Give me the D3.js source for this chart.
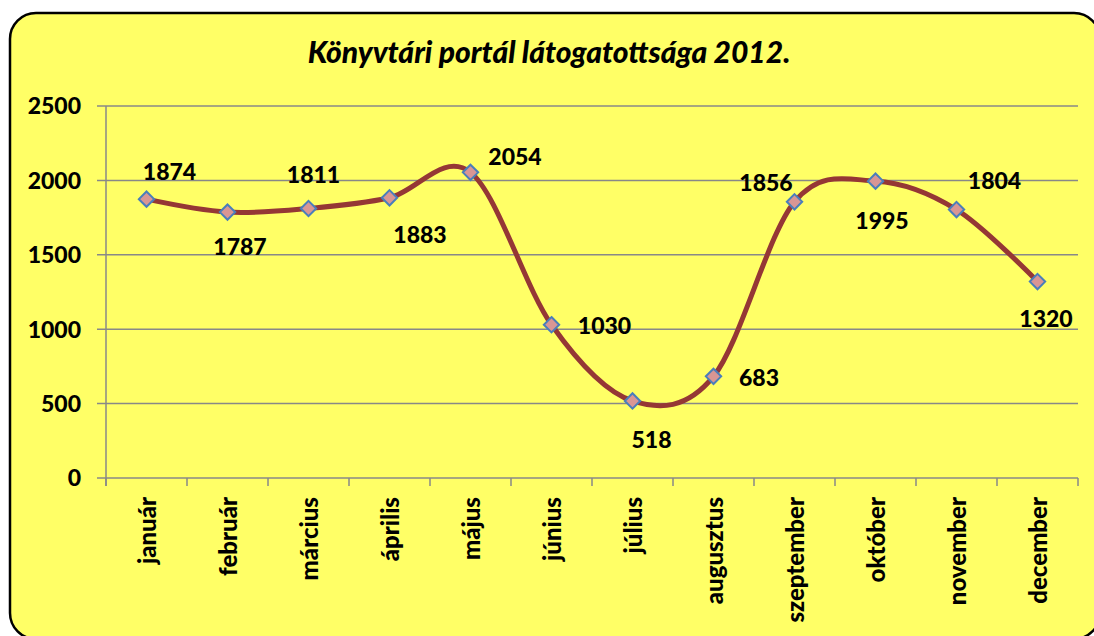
<!DOCTYPE html>
<html>
<head>
<meta charset="utf-8">
<script src="https://cdn.jsdelivr.net/npm/d3@7"></script>
<style>
  body { margin: 0; background: #fff; }
  text { font-family: Lato, "Open Sans", sans-serif; font-weight: 900; }
</style>
</head>
<body>
<script>
const title = "Könyvtári portál látogatottsága 2012.";
const months = ["január", "február", "március", "április", "május", "június", "július", "augusztus", "szeptember", "október", "november", "december"];
const visits = [1874, 1787, 1811, 1883, 2054, 1030, 518, 683, 1856, 1995, 1804, 1320];
const yTicks = [0, 500, 1000, 1500, 2000, 2500];
// where each value label sits relative to its marker
const labelOffsets = [[23, -27], [12.5, 34.5], [5, -34], [30.5, 37], [44.5, -16], [53, 1], [19, 39], [45.5, 1], [-28.5, -19], [6.5, 39.5], [38, -28.5], [8.5, 37]];

const W = 1094, H = 636;
const plotL = 106, plotR = 1078, plotT = 106, plotB = 478;

const svg = d3.select("body").append("svg")
    .attr("width", W)
    .attr("height", H);

svg.append("rect")
    .attr("x", 10).attr("y", 13)
    .attr("width", 1090).attr("height", 626)
    .attr("rx", 26).attr("ry", 26)
    .attr("fill", "#ffff66")
    .attr("stroke", "#000")
    .attr("stroke-width", 2.5);

svg.append("text")
    .attr("x", 549).attr("y", 63)
    .attr("text-anchor", "middle")
    .attr("font-style", "italic")
    .attr("font-size", 30)
    .text(title);

const x = d3.scaleBand().domain(months).range([plotL, plotR]);
const y = d3.scaleLinear().domain([0, 2500]).range([plotB, plotT]);

// horizontal grid lines
svg.append("g").selectAll("line").data(yTicks).enter().append("line")
    .attr("x1", plotL - 9).attr("x2", plotR)
    .attr("y1", d => y(d)).attr("y2", d => y(d))
    .attr("stroke", "#888").attr("stroke-width", 1.5);

svg.append("g").selectAll("text").data(yTicks).enter().append("text")
    .attr("x", 81).attr("y", d => y(d) + 8.3)
    .attr("text-anchor", "end")
    .attr("font-size", 23)
    .text(d => d);

// axis lines
svg.append("line")
    .attr("x1", plotL).attr("x2", plotL)
    .attr("y1", plotT).attr("y2", plotB + 8)
    .attr("stroke", "#888").attr("stroke-width", 1.5);

const xTickPos = months.map(m => x(m)).concat([plotR]);
svg.append("g").selectAll("line").data(xTickPos).enter().append("line")
    .attr("x1", d => d).attr("x2", d => d)
    .attr("y1", plotB).attr("y2", plotB + 8)
    .attr("stroke", "#888").attr("stroke-width", 1.5);

svg.append("g").selectAll("text").data(months).enter().append("text")
    .attr("transform", d => "translate(" + (x(d) + x.bandwidth() / 2 + 9) + "," + 497 + ") rotate(-90)")
    .attr("text-anchor", "end")
    .attr("font-size", 24)
    .text(d => d);

// smoothed line
const cx = (d, i) => x(months[i]) + x.bandwidth() / 2;
const line = d3.line()
    .x(cx)
    .y(d => y(d))
    .curve(d3.curveCardinal.tension(0));

svg.append("path")
    .datum(visits)
    .attr("d", line)
    .attr("fill", "none")
    .attr("stroke", "#953735")
    .attr("stroke-width", 5);

const diamond = d3.symbol().type(d3.symbolDiamond2).size(150);
svg.append("g").selectAll("path").data(visits).enter().append("path")
    .attr("d", diamond)
    .attr("transform", (d, i) => "translate(" + cx(d, i) + "," + y(d) + ")")
    .attr("fill", "#d99694")
    .attr("stroke", "#4a7ebb")
    .attr("stroke-width", 2);

svg.append("g").selectAll("text").data(visits).enter().append("text")
    .attr("x", (d, i) => cx(d, i) + labelOffsets[i][0])
    .attr("y", (d, i) => y(d) + labelOffsets[i][1] + 8.3)
    .attr("text-anchor", "middle")
    .attr("font-size", 23)
    .text(d => d);
</script>
</body>
</html>
